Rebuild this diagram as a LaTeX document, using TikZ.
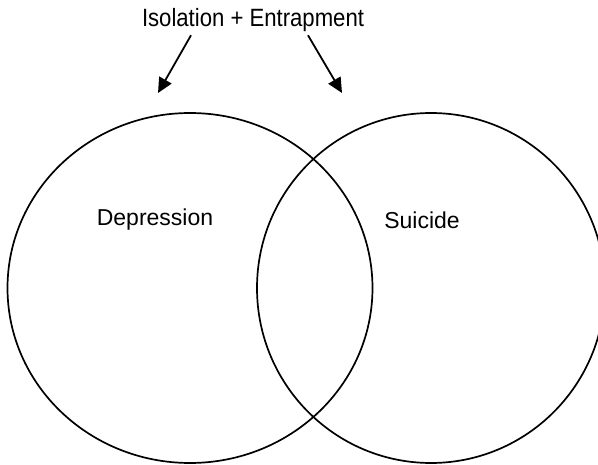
\documentclass[tikz,border=0pt]{standalone}
\usepackage{fontspec}
\setmainfont{Liberation Sans}
\usetikzlibrary{arrows.meta,shapes.geometric,positioning}

\begin{document}
\begin{tikzpicture}[x=1pt,y=-1pt,semithick,
    venn/.style={draw,ellipse,line width=1.7pt,inner sep=0pt},
    lbl/.style={font=\fontsize{23}{27}\selectfont},
    arr/.style={-{Triangle[length=15pt,width=14pt]},line width=1.8pt}]
        \clip (0,0) rectangle (598,465);
        \node[venn,minimum width=365,minimum height=350] (dep) at (190,288) {};
        \node[venn,minimum width=348,minimum height=350] (sui) at (431,288) {};
        \node[font=\fontsize{25}{30}\selectfont,xscale=0.885,transform shape] (top) at (253,20) {Isolation + Entrapment};
        \node[lbl] (depl) at (155,220) {Depression};
        \node[lbl] (suil) at (422,220) {Suicide};
        \coordinate (tipl) at (158,93);
        \coordinate (tipr) at (342,93);

        \draw[arr] ([xshift=-62]top.south) -- (tipl);
        \draw[arr] ([xshift=55]top.south) -- (tipr);
    \end{tikzpicture}
\end{document}
